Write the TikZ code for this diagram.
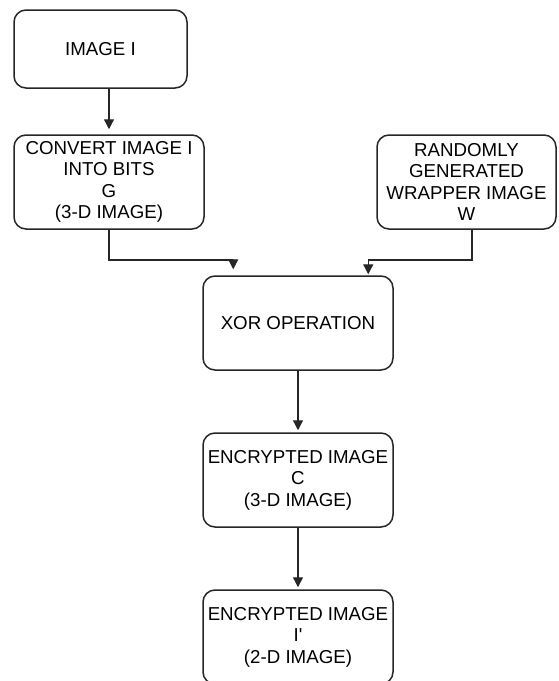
\documentclass[tikz,border=0pt]{standalone}
\usepackage{fontspec}
\setmainfont{Liberation Sans}
\usetikzlibrary{arrows.meta}
\begin{document}
\begin{tikzpicture}[x=1pt,y=1pt,
  box/.style={draw=black!85, line width=1.5pt, rounded corners=12pt, fill=white,
    align=center, inner sep=0pt, font=\fontsize{18.7}{21.5}\selectfont},
  link/.style={draw=black!85, line width=1.3pt, -{Triangle[length=10pt,width=10pt]}}
]
\clip (0,0) rectangle (558,-681);
\useasboundingbox (0,0) rectangle (558,-681);
% process boxes
\node[box, minimum width=173pt, minimum height=78pt] (img) at (100.5,-49) {IMAGE I};
\node[box, minimum width=190pt, minimum height=94pt] (bits) at (109,-182)
  {CONVERT IMAGE I\\INTO BITS\\G\\(3-D IMAGE)};
\node[box, minimum width=179pt, minimum height=94pt] (wrap) at (466.5,-182)
  {RANDOMLY\\GENERATED\\WRAPPER IMAGE\\W};
\node[box, minimum width=190pt, minimum height=94pt] (xor) at (298,-323) {XOR OPERATION};
\node[box, minimum width=190pt, minimum height=94pt] (enc) at (298,-480)
  {ENCRYPTED IMAGE\\C\\(3-D IMAGE)};
\node[box, minimum width=190pt, minimum height=94pt] (flat) at (298,-637)
  {ENCRYPTED IMAGE\\I\textquotesingle\\(2-D IMAGE)};
% entry points on the XOR box and the level of the joining rail
\coordinate (inL) at ([xshift=31pt,yshift=6pt]xor.north west);
\coordinate (inR) at ([xshift=166pt,yshift=1pt]xor.north west);
\coordinate (outW) at ([xshift=5.5pt]wrap.south);
\coordinate (rail) at (0,-260);
% connectors
\draw[link] (bits.north |- img.south) -- ([yshift=5pt]bits.north);
\draw[link] (bits.south) |- (inL |- rail) -- (inL);
\draw[link] (outW) |- (inR |- rail) -- (inR);
\draw[link] (xor.south) -- ([yshift=2pt]enc.north);
\draw[link] (enc.south) -- ([yshift=2pt]flat.north);
\end{tikzpicture}
\end{document}
